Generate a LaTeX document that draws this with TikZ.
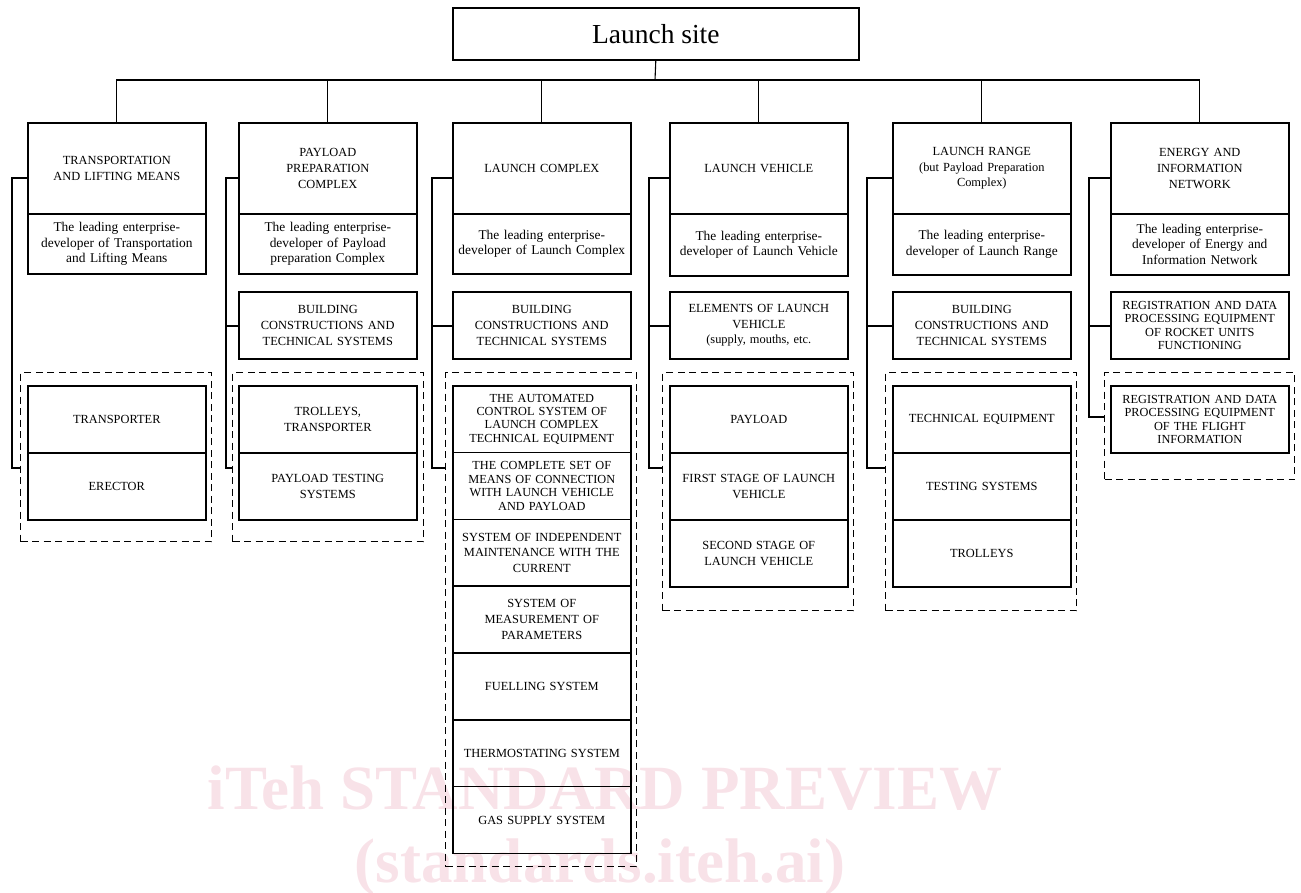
\documentclass[tikz,border=0pt]{standalone}
\usepackage{fontspec}
\setmainfont{Liberation Serif}
\newfontfamily\wmfont{Liberation Serif}
\definecolor{wmpink}{RGB}{248,226,232}
\tikzset{
  box/.style={draw, line width=1.6pt, minimum width=178pt, text width=176pt, align=center, inner sep=0pt, anchor=north west, font=\fontsize{12.4}{15.8}\selectfont},
  tight/.style={font=\fontsize{12.3}{13.4}\selectfont},
  lower/.style={font=\fontsize{13.4}{15.5}\selectfont},
  grp/.style={draw, line width=1.1pt, dash pattern=on 7pt off 4.5pt},
  link/.style={line width=1.1pt},
}
\begin{document}
\begin{tikzpicture}[x=1pt,y=-1pt]
\useasboundingbox (0,0) rectangle (1301,893);
% watermark
\node[anchor=base, text=wmpink, font=\wmfont\bfseries\fontsize{63}{63}\selectfont, inner sep=0pt] (wm1) at (605,809) {iTeh STANDARD PREVIEW};
\node[anchor=base, text=wmpink, font=\wmfont\bfseries\fontsize{63}{63}\selectfont, inner sep=0pt] (wm2) at (600,882) {(standards.iteh.ai)};

% title
\node[draw, line width=1.6pt, minimum width=406pt, minimum height=52pt, anchor=north west, inner sep=0pt, font=\fontsize{27.5}{30}\selectfont] (top) at (452,7) {Launch site};
\coordinate (bus) at (655,80);

% column 1
\node[box, minimum height=91pt] (m1) at (27,122) {TRANSPORTATION\\AND LIFTING MEANS};
\node[box, lower, minimum height=60pt] (s1) at (27,213) {The leading enterprise-\\developer of Transportation\\and Lifting Means};
\node[grp, minimum width=191pt, minimum height=169pt, anchor=north west, inner sep=0pt] (d1) at (20,372) {};
\node[box, minimum height=67pt] (a1) at (27,385) {TRANSPORTER};
\node[box, minimum height=67pt] (b1) at (27,452) {ERECTOR};

% column 2
\node[box, minimum height=91pt] (m2) at (238,122) {PAYLOAD\\PREPARATION\\COMPLEX};
\node[box, lower, minimum height=60pt] (s2) at (238,213) {The leading enterprise-\\developer of Payload\\preparation Complex};
\node[box, minimum height=67pt] (c2) at (238,291) {BUILDING\\CONSTRUCTIONS AND\\TECHNICAL SYSTEMS};
\node[grp, minimum width=191pt, minimum height=169pt, anchor=north west, inner sep=0pt] (d2) at (232,372) {};
\node[box, minimum height=67pt] (a2) at (238,385) {TROLLEYS,\\TRANSPORTER};
\node[box, minimum height=67pt] (b2) at (238,452) {PAYLOAD TESTING\\SYSTEMS};

% column 3
\node[box, minimum height=91pt] (m3) at (452,122) {LAUNCH COMPLEX};
\node[box, lower, minimum height=60pt] (s3) at (452,213) {The leading enterprise-\\developer of Launch Complex};
\node[box, minimum height=67pt] (c3) at (452,291) {BUILDING\\CONSTRUCTIONS AND\\TECHNICAL SYSTEMS};
\node[grp, minimum width=191pt, minimum height=494pt, anchor=north west, inner sep=0pt] (d3) at (445,372) {};
\node[box, tight, minimum height=66.8pt] (a3) at (452,385) {THE AUTOMATED\\CONTROL SYSTEM OF\\LAUNCH COMPLEX\\TECHNICAL EQUIPMENT};
\node[box, tight, minimum height=66.8pt] (b3) at (452,451.8) {THE COMPLETE SET OF\\MEANS OF CONNECTION\\WITH LAUNCH VEHICLE\\AND PAYLOAD};
\node[box, minimum height=66.8pt] (e3) at (452,518.6) {SYSTEM OF INDEPENDENT\\MAINTENANCE WITH THE\\CURRENT};
\node[box, minimum height=66.8pt] (f3) at (452,585.4) {SYSTEM OF\\MEASUREMENT OF\\PARAMETERS};
\node[box, minimum height=66.8pt] (g3) at (452,652.2) {FUELLING SYSTEM};
\node[box, minimum height=66.8pt] (h3) at (452,719) {THERMOSTATING SYSTEM};
\node[box, minimum height=66.8pt] (i3) at (452,785.8) {GAS SUPPLY SYSTEM};

% column 4
\node[box, minimum height=91pt] (m4) at (669,122) {LAUNCH VEHICLE};
\node[box, lower, minimum height=62pt] (s4) at (669,213) {The leading enterprise-\\developer of Launch Vehicle};
\node[box, minimum height=67pt] (c4) at (669,291) {ELEMENTS OF LAUNCH\\VEHICLE\\ (supply, mouths, etc.};
\node[grp, minimum width=191pt, minimum height=238pt, anchor=north west, inner sep=0pt] (d4) at (662,372) {};
\node[box, minimum height=67pt] (a4) at (669,385) {PAYLOAD};
\node[box, minimum height=67pt] (b4) at (669,452) {FIRST STAGE OF LAUNCH\\VEHICLE};
\node[box, minimum height=67pt] (e4) at (669,519) {SECOND STAGE OF\\LAUNCH VEHICLE};

% column 5
\node[box, minimum height=91pt] (m5) at (892,122) {LAUNCH RANGE\\(but Payload Preparation\\Complex)};
\node[box, lower, minimum height=61pt] (s5) at (892,213) {The leading enterprise-\\developer of Launch Range};
\node[box, minimum height=67pt] (c5) at (892,291) {BUILDING\\CONSTRUCTIONS AND\\TECHNICAL SYSTEMS};
\node[grp, minimum width=191pt, minimum height=238pt, anchor=north west, inner sep=0pt] (d5) at (885,372) {};
\node[box, minimum height=67pt] (a5) at (892,385) {TECHNICAL EQUIPMENT};
\node[box, minimum height=67pt] (b5) at (892,452) {TESTING SYSTEMS};
\node[box, minimum height=67pt] (e5) at (892,519) {TROLLEYS};

% column 6
\node[box, minimum height=91pt] (m6) at (1110,122) {ENERGY AND\\INFORMATION\\NETWORK};
\node[box, lower, minimum height=61pt] (s6) at (1110,213) {The leading enterprise-\\developer of Energy and\\Information Network};
\node[box, tight, minimum height=67pt] (c6) at (1110,291) {REGISTRATION AND DATA\\PROCESSING EQUIPMENT\\OF ROCKET UNITS\\FUNCTIONING};
\node[grp, minimum width=190pt, minimum height=107pt, anchor=north west, inner sep=0pt] (d6) at (1104,372) {};
\node[box, tight, minimum height=67pt] (a6) at (1110,385) {REGISTRATION AND DATA\\PROCESSING EQUIPMENT\\OF THE FLIGHT\\INFORMATION};

% tree connectors
\draw[link] (top.south) -- (bus);
\draw[link] (m1.north) |- (bus);
\draw[link] (m6.north) |- (bus);
\foreach \n in {m2,m3,m4,m5} \draw[link] (\n.north) -- (\n.north |- bus);

% side connectors
\draw[link] (m1.west |- 0,178) -| (12,468) -- (d1.west |- 0,468);
\draw[link] (m2.west |- 0,178) -| (226,468) -- (d2.west |- 0,468);
\draw[link] (c2.west |- 0,326) -- (226,326);
\draw[link] (m3.west |- 0,178) -| (432,468) -- (d3.west |- 0,468);
\draw[link] (c3.west |- 0,326) -- (432,326);
\draw[link] (m4.west |- 0,178) -| (649,468) -- (d4.west |- 0,468);
\draw[link] (c4.west |- 0,326) -- (649,326);
\draw[link] (m5.west |- 0,178) -| (867,468) -- (d5.west |- 0,468);
\draw[link] (c5.west |- 0,326) -- (867,326);
\draw[link] (m6.west |- 0,178) -| (1089,417) -- (d6.west |- 0,417);
\draw[link] (c6.west |- 0,326) -- (1089,326);
\end{tikzpicture}
\end{document}
